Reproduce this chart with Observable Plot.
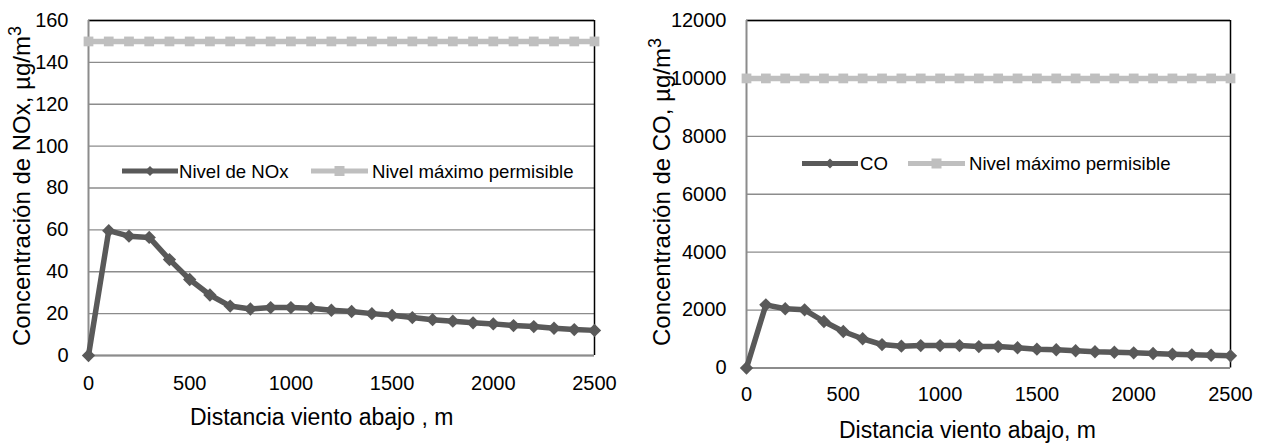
<!DOCTYPE html>
<html>
<head>
<meta charset="utf-8">
<script src="https://cdn.jsdelivr.net/npm/d3@7"></script>
<script src="https://cdn.jsdelivr.net/npm/@observablehq/plot@0.6"></script>
<style>
  html, body { margin: 0; padding: 0; background: #fff; }
  #wrap { position: relative; width: 1261px; height: 448px; overflow: hidden; background: #fff; }
  #wrap svg { position: absolute; top: 0; }
</style>
</head>
<body>
<div id="wrap"></div>
<script>
// ---- data ----
const distance = [0,100,200,300,400,500,600,700,800,900,1000,1100,1200,1300,1400,1500,1600,1700,1800,1900,2000,2100,2200,2300,2400,2500];
const noxLevel = [0,59.6,57,56.4,45.8,36.3,28.9,23.6,22.2,22.9,22.9,22.6,21.6,21,20,19.2,18.1,17.1,16.4,15.6,15.1,14.3,13.8,13,12.4,12];
const noxLimit = [150,150,150,150,150,150,150,150,150,150,150,150,150,150,150,150,150,150,150,150,150,150,150,150,150,150];
const coLevel = [0,2180,2045,2010,1605,1260,1010,810,755,775,775,775,740,740,700,650,630,595,560,545,525,500,475,455,440,420];
const coLimit = [10000,10000,10000,10000,10000,10000,10000,10000,10000,10000,10000,10000,10000,10000,10000,10000,10000,10000,10000,10000,10000,10000,10000,10000,10000,10000];
const xTicks = [0,500,1000,1500,2000,2500];
const noxTicks = [0,20,40,60,80,100,120,140,160];
const coTicks = [0,2000,4000,6000,8000,10000,12000];
const noxTitleY = "Concentración de NOx, µg/m";
const coTitleY = "Concentración de CO, µg/m";
const noxTitleX = "Distancia viento abajo , m";
const coTitleX = "Distancia viento abajo, m";
const noxLegend = ["Nivel de NOx", "Nivel máximo permisible"];
const coLegend = ["CO", "Nivel máximo permisible"];

const FONT = "'Liberation Sans', Arial, sans-serif";
const DARK = "#595959";
const LIGHT = "#bfbfbf";
const GRID = "#8c8c8c";

function makeChart(cfg) {
  const levelData = distance.map((d, i) => ({x: d, y: cfg.level[i]}));
  const limitData = distance.map((d, i) => ({x: d, y: cfg.limit[i]}));
  const yMax = cfg.yTicks[cfg.yTicks.length - 1];
  const svg = Plot.plot({
    width: 630, height: 448,
    marginLeft: cfg.ml, marginRight: cfg.mr, marginTop: 20, marginBottom: cfg.mb,
    style: {fontFamily: FONT, fontSize: "20px", color: "#000", background: "transparent", overflow: "visible"},
    x: {domain: [0, 2500], ticks: xTicks, tickSize: 0, tickPadding: cfg.xpad, label: null, tickFormat: d => String(d)},
    y: {domain: [0, yMax], ticks: cfg.yTicks, tickSize: 0, tickPadding: 20, label: null, tickFormat: d => String(d)},
    marks: [
      Plot.gridY(cfg.yTicks, {stroke: GRID, strokeOpacity: 1, strokeWidth: 1.4}),
      Plot.ruleY([yMax], {stroke: "#000", strokeWidth: 1.5}),
      Plot.ruleX([2500], {stroke: "#000", strokeWidth: 1.5}),
      Plot.ruleX([0], {stroke: GRID, strokeWidth: 2}),
      Plot.ruleY([0], {stroke: GRID, strokeWidth: 2}),
      Plot.line(limitData, {x: "x", y: "y", stroke: LIGHT, strokeWidth: 5.5}),
      Plot.dot(limitData, {x: "x", y: "y", symbol: "square", fill: LIGHT, r: 5.5}),
      Plot.line(levelData, {x: "x", y: "y", stroke: DARK, strokeWidth: 5.5, strokeLinejoin: "round"}),
      Plot.dot(levelData, {x: "x", y: "y", symbol: "diamond2", fill: DARK, r: 6})
    ]
  });
  svg.style.left = cfg.left + "px";
  const s = d3.select(svg);
  // y title
  const yt = s.append("text")
    .attr("transform", `translate(${cfg.ytx},346) rotate(-90)`)
    .attr("font-family", FONT).attr("font-size", 24).attr("fill", "#000")
    .attr("text-anchor", "start");
  yt.append("tspan").text(cfg.yTitle);
  yt.append("tspan").attr("font-size", "0.75em").attr("dy", "-0.45em").text("3");
  // x title
  s.append("text")
    .attr("x", cfg.xtx).attr("y", cfg.xty)
    .attr("text-anchor", "start")
    .attr("font-family", FONT).attr("font-size", 23).attr("fill", "#000")
    .text(cfg.xTitle);
  // legend
  const lg = s.append("g").attr("font-family", FONT).attr("font-size", 18.6).attr("fill", "#000").attr("text-anchor", "start");
  const items = [
    {x0: cfg.leg[0], x1: cfg.leg[1], tx: cfg.leg[2], color: DARK, sym: "diamond", label: cfg.legend[0]},
    {x0: cfg.leg[3], x1: cfg.leg[4], tx: cfg.leg[5], color: LIGHT, sym: "square", label: cfg.legend[1]}
  ];
  const ly = cfg.legY;
  items.forEach(it => {
    lg.append("line").attr("x1", it.x0).attr("x2", it.x1).attr("y1", ly).attr("y2", ly)
      .attr("stroke", it.color).attr("stroke-width", 5);
    const cx = (it.x0 + it.x1) / 2;
    if (it.sym === "diamond") {
      lg.append("path").attr("d", `M${cx},${ly-5}L${cx+5},${ly}L${cx},${ly+5}L${cx-5},${ly}Z`).attr("fill", it.color);
    } else {
      lg.append("rect").attr("x", cx - 5).attr("y", ly - 5).attr("width", 10).attr("height", 10).attr("fill", it.color);
    }
    lg.append("text").attr("x", it.tx).attr("y", ly).attr("dy", "0.35em").attr("text-anchor", "start").text(it.label);
  });
  return svg;
}

const wrap = document.getElementById("wrap");
wrap.appendChild(makeChart({
  left: 0, ml: 88, mr: 36, mb: 93, xpad: 20,
  level: noxLevel, limit: noxLimit, yTicks: noxTicks,
  yTitle: noxTitleY, ytx: 29.5, xTitle: noxTitleX, xtx: 190, xty: 425,
  legend: noxLegend, legY: 171, leg: [122, 178, 179, 311, 368, 372]
}));
wrap.appendChild(makeChart({
  left: 631, ml: 115, mr: 31, mb: 80.5, xpad: 19,
  level: coLevel, limit: coLimit, yTicks: coTicks,
  yTitle: coTitleY, ytx: 38.5, xTitle: coTitleX, xtx: 208, xty: 438,
  legend: coLegend, legY: 163.5, leg: [171, 227, 229, 277, 334, 338]
}));
</script>
</body>
</html>
